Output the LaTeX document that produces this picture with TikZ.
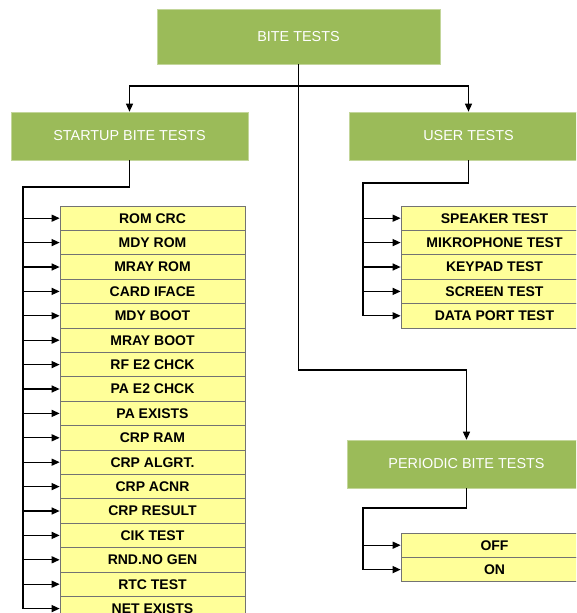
\documentclass[tikz,border=0pt]{standalone}
\usepackage{xcolor}
\usepackage{fontspec}
\setmainfont{Liberation Sans}
\usepackage{tikz}
\usetikzlibrary{arrows.meta}

\definecolor{bitegreen}{HTML}{9BBB59}
\definecolor{biteyellow}{HTML}{FFFF99}

\begin{document}
\begin{tikzpicture}[x=1pt,y=-1pt,
  greenbox/.style={fill=bitegreen,draw=bitegreen!60!white,line width=0.6pt,text=white,
    minimum height=48pt,inner sep=0pt,font=\fontsize{14.4}{16}\selectfont},
  testbox/.style={fill=biteyellow,draw=black!55,line width=0.7pt,minimum height=24.4pt,
    inner sep=0pt,font=\fontsize{14}{16}\selectfont\bfseries},
  conn/.style={line width=1.3pt,black},
  tip/.style={conn,-{Triangle[length=8pt,width=7pt]}}]
\clip (0,0) rectangle (576,613);

\node[greenbox,minimum width=283pt,minimum height=55pt] (bite) at (298.5,36.5) {BITE TESTS};
\node[greenbox,minimum width=237pt] (startup) at (129.5,136) {STARTUP BITE TESTS};
\node[greenbox,minimum width=239pt] (user) at (468.5,136) {USER TESTS};
\node[greenbox,minimum width=239pt] (periodic) at (466.5,464) {PERIODIC BITE TESTS};

\foreach \name [count=\i] in {ROM CRC,MDY ROM,MRAY ROM,CARD IFACE,MDY BOOT,MRAY BOOT,
  RF E2 CHCK,PA E2 CHCK,PA EXISTS,CRP RAM,CRP ALGRT.,CRP ACNR,CRP RESULT,CIK TEST,
  RND.NO GEN,RTC TEST,NET EXISTS}
  \node[testbox,minimum width=185pt] (s\i) at (152.5,{218.2+24.4*(\i-1)}) {\name};

\foreach \name [count=\i] in {SPEAKER TEST,MIKROPHONE TEST,KEYPAD TEST,SCREEN TEST,DATA PORT TEST}
  \node[testbox,minimum width=187pt] (u\i) at (494.5,{218.2+24.4*(\i-1)}) {\name};

\foreach \name [count=\i] in {OFF,ON}
  \node[testbox,minimum width=187pt] (p\i) at (494.5,{545.2+24.4*(\i-1)}) {\name};

\draw[conn] (bite.south) -- (298.5,86);
\draw[tip] (298.5,86) -| (startup.north);
\draw[tip] (298.5,86) -| (user.north);
\draw[tip] (bite.south) -- (298.5,370) -| (periodic.north);

\coordinate (sbus) at (23,187);
\coordinate (ubus) at (363,183);
\coordinate (pbus) at (363,508);

\draw[conn] (startup.south) |- (sbus) -- (sbus |- s17.west);
\foreach \i in {1,...,17}
  \draw[tip] (sbus |- s\i.west) -- (s\i.west);

\draw[conn] (user.south) |- (ubus) -- (ubus |- u5.west);
\foreach \i in {1,...,5}
  \draw[tip] (ubus |- u\i.west) -- (u\i.west);

\draw[conn] (periodic.south) |- (pbus) -- (pbus |- p2.west);
\foreach \i in {1,2}
  \draw[tip] (pbus |- p\i.west) -- (p\i.west);
\end{tikzpicture}
\end{document}
